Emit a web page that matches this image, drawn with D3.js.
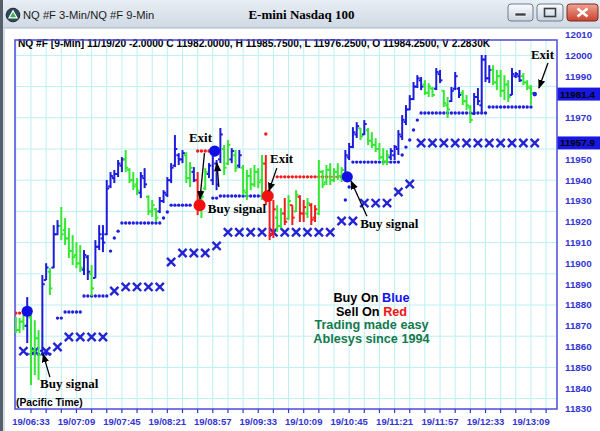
<!DOCTYPE html>
<html><head><meta charset="utf-8">
<script src="https://cdn.jsdelivr.net/npm/d3@7"></script>
<style>html,body{margin:0;padding:0;background:#fff;overflow:hidden}</style>
</head><body>
<svg id="c" width="600" height="431"></svg>
<script>
// ---------- DATA ----------
const windowTitle = "NQ #F 3-Min/NQ #F 9-Min";
const chartTitle = "E-mini Nasdaq 100";
const headerText = "NQ #F [9-Min] 11/19/20  -2.0000 C 11982.0000, H 11985.7500, L 11976.2500, O 11984.2500, V 2.2830K";
const timeLabels = ["19/06:33","19/07:09","19/07:45","19/08:21","19/08:57","19/09:33","19/10:09","19/10:45","19/11:21","19/11:57","19/12:33","19/13:09"];
const priceTicks = [12010,12000,11990,11980,11970,11960,11950,11940,11930,11920,11910,11900,11890,11880,11870,11860,11850,11840,11830];
const gridPrices = [11835,11850,11865,11880,11895,11910,11925,11940,11955,11970,11985,12000];
const lastPrices = [11981.4, 11957.9];

// 3-min bars (index 0 = 19/06:21)
const barHigh = [11874.2,11873.7,11875.2,11883.8,11876.1,11872.7,11867.9,11894.4,11900.1,11897.7,
11918.4,11920.8,11927.1,11921.8,11917,11913.6,11910.2,11908.8,11906.4,11904,
11899.2,11911.2,11918.4,11918.4,11940.1,11943.9,11944.9,11949.7,11951.1,11954.5,
11945.8,11943.9,11941,11943.9,11945.8,11932.8,11930.5,11926.6,11931.9,11935.2,
11941.5,11948.2,11961.7,11953,11954.5,11953.5,11948.7,11946.3,11943.9,11935.2,
11945.8,11948.2,11954.5,11949.7,11965.1,11956.9,11959.3,11955.4,11954.5,11954.5,
11947.3,11944.9,11945.8,11947.3,11945.8,11952.1,11952.1,11935.2,11930.5,11928,
11926.6,11931.4,11932.8,11928,11935.2,11932.8,11930.5,11931.4,11929,11928,
11949.7,11944.9,11947.3,11948.2,11945.8,11948.2,11946.3,11954.5,11957.9,11965.5,
11967.9,11965.1,11968.9,11965.1,11963.1,11960.2,11957.9,11955.4,11954.5,11955.4,
11956.9,11964.1,11971.3,11976.1,11980.9,11987.2,11990.5,11989.6,11988.1,11986.7,
11984.8,11993.9,11993,11983.3,11980,11984.8,11992,11984.8,11983.3,11980.9,
11976.1,11981.9,11984.3,12000.2,12000.2,11995.3,11995.3,11993,11993,11990.5,
11988.1,11993.9,11992,11993,11991.5,11988.1,11985.75];
const barLow = [11866.5,11866.5,11867.9,11861.7,11841.5,11846.3,11843.9,11856.9,11892,11884.8,
11897.7,11913.6,11911.2,11908.8,11902.6,11899.2,11897.7,11895.8,11894.4,11892,
11884.3,11893,11906.4,11905.4,11913.6,11936.2,11938.6,11941.5,11943.9,11943.9,
11938.6,11935.3,11932.8,11931.4,11936.2,11923.2,11922.3,11919.9,11924.2,11929,
11931.9,11938.6,11946.3,11947.3,11948.2,11938.6,11936.7,11939.1,11923.2,11921.8,
11935.2,11941,11937.7,11935.2,11948.2,11942.5,11947.3,11948.2,11943.9,11945.8,
11932.8,11930.5,11935.2,11936.7,11936.2,11930.5,11928,11911.2,11912.2,11915.1,
11917,11918.4,11920.8,11918.4,11924.7,11919.9,11919.9,11921.8,11918.4,11919.9,
11923.2,11936.2,11937.7,11937.7,11939.1,11940.1,11939.1,11941,11949.7,11955.4,
11960.3,11959.3,11961.7,11956.9,11955.4,11953.5,11949.7,11947.3,11947.3,11949.7,
11949.7,11952.1,11959.3,11966.5,11973.7,11978.5,11984.3,11983.3,11980.9,11980,
11980,11983.3,11986.7,11975.2,11969.9,11977.6,11983.3,11979.5,11976.1,11973.7,
11967.5,11971.3,11976.1,11972.8,11987.2,11986.7,11985.7,11983.3,11980,11978.5,
11977.6,11980.9,11989.1,11987.2,11985.7,11983.3,11976.25];
const barOpen = [11870,11868,11872,11870,11874,11858,11864,11858,11892,11896,
11898,11914,11918,11916,11912,11906,11904,11900,11897,11903,
11895,11893,11908,11912,11914,11937,11941,11943,11947,11950,
11945,11940,11938,11934,11941,11932,11925,11926,11925,11930,
11933,11940,11947,11952,11950,11952,11941,11944,11940,11928,
11936,11943,11940,11948,11950,11955,11948,11950,11952,11947,
11946,11934,11942,11938,11944,11940,11948,11932,11914,11922,
11918,11924,11921.5,11928,11925,11932,11924,11924,11928,11922,
11924,11944,11939,11945,11940,11944,11942,11943,11951,11956,
11962,11965,11962,11964,11959,11957,11955,11951,11949,11951,
11952,11955,11961,11968,11974,11979,11985,11988,11986,11982,
11984,11984,11991,11983,11976,11978,11984,11984,11982,11978,
11975,11972,11980,11976,11998,11989,11993,11987,11990,11983,
11986,11981,11990,11990,11990,11987,11984.25];
const barClose = [11868,11872,11870,11878,11858,11864,11856,11890,11898,11888,
11914,11918,11914,11912,11906,11903,11900,11898,11904,11896,
11888,11908,11914,11910,11936,11942,11943,11948,11950,11946,
11940,11937,11935,11942,11938,11925,11928,11922,11930,11934,
11940,11946,11955,11950,11953,11941,11946,11940,11928,11932,
11944,11947,11952,11938,11962,11946,11957,11954,11946,11952,
11935,11942,11938,11944,11939,11948,11932,11914,11926,11918,
11924,11920,11930,11922,11933,11924,11927,11929,11921,11926,
11944,11938,11945,11940,11944,11942,11945,11952,11956,11963,
11966,11961,11967,11959,11957,11955,11951,11949,11952,11954,
11956,11962,11969,11974,11979,11985,11989,11985,11982,11985,
11981,11992,11988,11977,11974,11983,11990,11981,11978,11976,
11969,11980,11978,11998,11989,11993,11987,11990,11983,11986,
11980,11991,11991,11988,11987,11985,11982];
// B = blue (up trend), G = green, R = red
const barColor = ("GGGBGGGBBG"+"BBGGGGGGBB"+"GBBBBBBBBG"+"GGGBBGGGBB"+"BBBBBGGBRG"+
  "GBBBBGGBGB"+"GGGGGGRRRG"+"GRGRGRRGRR"+"GGGGGGGBBB"+"BGBGGGGGGB"+
  "BBBBBBBBGG"+"GBBGGBBBGG"+"GBBBBBGGGG"+"GBBBGGG").split("");

const N = null;
// blue trailing-stop dots (per 3-min bar)
const blueStop = [N,N,N,11856.4,11856.4,11856.4,11856.4,11856.4,11856.4,11856.4,
N,11873.7,11873.7,11876.6,11876.6,11876.6,11876.6,11876.6,11884.3,11884.3,
11884.3,11884.3,11884.3,11884.3,11884.3,11905.9,11912.2,11915.5,11919.4,11919.4,
11919.4,11919.4,11919.4,11919.4,11919.4,11919.4,11919.4,11919.4,11919.4,11921.8,
11924.7,11928,11928,11928,11928,11928,11928,N,N,N,
N,N,11931.4,11931.4,11932.4,11932.4,11932.4,11932.4,11932.4,11932.4,
11932.4,11932.4,11932.4,11932.4,11932.4,11932.4,11932.4,N,N,N,
N,N,N,N,N,N,N,N,N,N,
N,N,N,N,N,N,N,11930.5,11936.7,11948.7,
11948.7,11948.7,11948.7,11948.7,11948.7,11948.7,11948.7,11948.7,11948.7,11948.7,
11948.7,11948.7,11952.1,11955.9,11959.3,11964.1,11968.9,11972.3,11972.3,11972.3,
11972.3,11972.3,11972.3,11972.3,11972.3,11972.3,11972.3,11972.3,11972.3,11972.3,
11972.3,11972.3,11972.3,11972.3,11972.3,11975.2,11975.2,11975.2,11975.2,11975.2,
11975.2,11975.2,11975.2,11975.2,11975.2,11975.2,11975.2];
// red stop dots (per 3-min bar)
const redStop = [11876.1,11876.1,11876.1,N,N,N,N,N,N,N,
N,N,N,N,N,N,N,N,N,N,
N,N,N,N,N,N,N,N,N,N,
N,N,N,N,N,N,N,N,N,N,
N,N,N,N,N,N,N,N,11954,11954,
11954,11954,N,N,N,N,N,N,N,N,
N,N,N,N,N,N,11962.2,N,N,11941.6,
11941.6,11941.6,11941.6,11941.6,11941.6,11941.6,11941.6,11941.6,11941.6,11941.6,
11941.6,11941.6,11941.6,11941.6,11941.6,11941.6,11941.6,N,N,N,
N,N,N,N,N,N,N,N,N,N,
N,N,N,N,N,N,N,N,N,N,
N,N,N,N,N,N,N,N,N,N,
N,N,N,N,N,N,N,N,N,N,
N,N,N,N,N,N,N];
// 9-min stop (X markers), one per 9-min bar
const nineMinStop = [11857.8,11857.8,11857.8,11859.8,11864.6,11864.6,11864.6,11864.6,11886.7,11888.7,
11888.7,11888.7,11888.7,11900.7,11905,11905,11905,11908.4,11915,11915,
11915,11915,11915,11915,11915,11915,11915,11915,11920.4,11920.4,
11929,11929,11929,11934.3,11938.2,11957.9,11957.9,11957.9,11957.9,11957.9,
11957.9,11957.9,11957.9,11957.9,11957.9,11957.9];
// signals (bar index, price)
const signalIdx = [3, 48.5, 52.5, 66.5, 87.5];
const signalPrice = [11877, 11928, 11954, 11932.4, 11941.6];
const signalColor = ["B","R","B","R","B"];
const exitIdx = 137, exitPrice = 11981.4;
// annotations: text at (idx, price); arrow from (idx,price) to (idx,price)
const noteText = ["Exit","Buy signal","Exit","Buy signal","Buy signal","Exit"];
const noteIdx = [45.7, 50.7, 67.1, 90.9, 6.4, 136.0];
const notePrice = [11958.3, 11924.2, 11948.2, 11917.0, 11840.1, 11998.2];
const arrowFrom = [[49.8,11953.0],[53.6,11936.7],[68.9,11945.8],[92.7,11922.7],[9.0,11845.3],[140.5,11996.3]];
const arrowTo   = [[48.6,11930.9],[53.1,11948.2],[66.8,11934.8],[88.5,11939.6],[7.2,11856.4],[138.1,11984.3]];

// ---------- DRAW ----------
const svg = d3.select("#c");
const SANS = "'Liberation Sans', Arial, sans-serif";
const SERIF = "'Liberation Serif', 'Times New Roman', serif";
const COL = {B:"#1c1cdc", G:"#33e833", R:"#f21c1c"};
const AXIS = "#3434d4";
const plot = {l:15, r:557, t:40, b:409};
const x = d3.scaleLinear().domain([-0.224, 142.88]).range([plot.l, plot.r]);
const y = d3.scaleLinear().domain([11830, 12007.4]).range([plot.b, plot.t]);

const defs = svg.append("defs");
const tb = defs.append("linearGradient").attr("id","tb").attr("x1",0).attr("y1",0).attr("x2",0).attr("y2",1);
tb.append("stop").attr("offset","0%").attr("stop-color","#e8eef5");
tb.append("stop").attr("offset","100%").attr("stop-color","#cfd9e4");
const bg = defs.append("linearGradient").attr("id","bg").attr("x1",0).attr("y1",0).attr("x2",0).attr("y2",1);
bg.append("stop").attr("offset","0%").attr("stop-color","#fbfcfe");
bg.append("stop").attr("offset","100%").attr("stop-color","#c9d3de");
const cg = defs.append("linearGradient").attr("id","cg").attr("x1",0).attr("y1",0).attr("x2",0).attr("y2",1);
cg.append("stop").attr("offset","0%").attr("stop-color","#f0a494");
cg.append("stop").attr("offset","100%").attr("stop-color","#c9412d");
defs.append("clipPath").attr("id","pc").append("rect")
  .attr("x",plot.l).attr("y",plot.t).attr("width",plot.r-plot.l).attr("height",plot.b-plot.t);
defs.append("marker").attr("id","ah").attr("viewBox","0 0 10 10").attr("refX",9).attr("refY",5)
  .attr("markerWidth",7).attr("markerHeight",7).attr("orient","auto-start-reverse")
  .append("path").attr("d","M0,1 L10,5 L0,9 z").attr("fill","#000");

svg.append("rect").attr("width",600).attr("height",431).attr("fill","#fff");
// window chrome
svg.append("rect").attr("x",0).attr("y",0).attr("width",600).attr("height",28).attr("fill","url(#tb)");
svg.append("line").attr("x1",0).attr("x2",600).attr("y1",28).attr("y2",28).attr("stroke","#aab6c3");
svg.append("rect").attr("x",0).attr("y",0).attr("width",3).attr("height",431).attr("fill","#55606c");
svg.append("rect").attr("x",3).attr("y",28).attr("width",2).attr("height",403).attr("fill","#d6dde5");
// icon
svg.append("circle").attr("cx",13).attr("cy",15).attr("r",6.8).attr("fill","#2f4a5a").attr("stroke","#1b2a33");
svg.append("path").attr("d","M13,9.5 L18,18.5 L8,18.5 Z").attr("fill","#fff");
svg.append("path").attr("d","M13,12 L16,17.3 L10,17.3 Z").attr("fill","#2fb54f");
svg.append("text").attr("x",23).attr("y",19).attr("font-family",SANS).attr("font-size",11.2)
  .attr("fill","#1c1c1c").text(windowTitle);
svg.append("text").attr("x",301.5).attr("y",19).attr("text-anchor","middle").attr("font-family",SERIF)
  .attr("font-weight","bold").attr("font-size",13).attr("fill","#000").text(chartTitle);
// buttons
svg.append("rect").attr("x",508).attr("y",4).attr("width",25).attr("height",17).attr("rx",3)
  .attr("fill","url(#bg)").attr("stroke","#6f7d8c");
svg.append("rect").attr("x",515).attr("y",13).attr("width",11).attr("height",3).attr("fill","#3a3f46").attr("stroke","#fff").attr("stroke-width",0.6);
svg.append("rect").attr("x",537).attr("y",4).attr("width",26).attr("height",17).attr("rx",3)
  .attr("fill","url(#bg)").attr("stroke","#6f7d8c");
svg.append("rect").attr("x",544.5).attr("y",8.5).attr("width",11).attr("height",8).attr("fill","none").attr("stroke","#3a3f46").attr("stroke-width",1.6);
svg.append("rect").attr("x",567).attr("y",4).attr("width",31).attr("height",17).attr("rx",3)
  .attr("fill","url(#cg)").attr("stroke","#7a2a20");
svg.append("path").attr("d","M577.5,8.5 L587.5,16.5 M587.5,8.5 L577.5,16.5").attr("stroke","#fff").attr("stroke-width",2.6);

// grid
const tickIdx = d3.range(0, 141, 4);
svg.append("g").selectAll("line").data(tickIdx).join("line")
  .attr("x1",d=>x(d)).attr("x2",d=>x(d)).attr("y1",plot.t).attr("y2",plot.b)
  .attr("stroke","#bdeff2").attr("stroke-width",1);
svg.append("g").selectAll("line").data(gridPrices).join("line")
  .attr("x1",plot.l).attr("x2",plot.r).attr("y1",d=>y(d)).attr("y2",d=>y(d))
  .attr("stroke","#bdeff2").attr("stroke-width",1);

// header
svg.append("text").attr("x",18).attr("y",47).attr("font-family",SANS).attr("font-weight","bold")
  .attr("font-size",10.2).attr("fill","#000").text(headerText);

// plot frame
svg.append("rect").attr("x",plot.l).attr("y",plot.t).attr("width",plot.r-plot.l).attr("height",plot.b-plot.t)
  .attr("fill","none").attr("stroke","#4b4bdc").attr("stroke-width",1.5);

// bottom axis
svg.append("g").selectAll("line").data(tickIdx.filter(d=>d>0)).join("line")
  .attr("x1",d=>x(d)).attr("x2",d=>x(d)).attr("y1",plot.b).attr("y2",plot.b+4)
  .attr("stroke",AXIS).attr("stroke-width",1.2);
svg.append("g").selectAll("text").data(timeLabels).join("text")
  .attr("x",(d,i)=>x(4+12*i)).attr("y",425).attr("text-anchor","middle")
  .attr("font-family",SANS).attr("font-weight","bold").attr("font-size",9.5).attr("fill",AXIS).text(d=>d);

// right axis labels (labels hidden under the last-price boxes are not drawn)
const visibleTicks = priceTicks.filter(p=>lastPrices.every(lp=>Math.abs(y(p)-y(lp))>9));
svg.append("g").selectAll("text").data(visibleTicks).join("text")
  .attr("x",565).attr("y",d=>y(d)).attr("dy","0.35em")
  .attr("font-family",SANS).attr("font-weight","bold").attr("font-size",9.8).attr("fill",AXIS).text(d=>d);
lastPrices.forEach(p=>{
  svg.append("rect").attr("x",557.5).attr("y",y(p)-6.5).attr("width",43).attr("height",13).attr("fill","#1818e0");
  svg.append("text").attr("x",560).attr("y",y(p)).attr("dy","0.35em").attr("font-family",SANS)
    .attr("font-weight","bold").attr("font-size",9.8).attr("fill","#000").text(p.toFixed(1));
});

const pg = svg.append("g").attr("clip-path","url(#pc)");
// 9-min X markers
const xs = 4.1;
pg.append("g").selectAll("path").data(nineMinStop).join("path")
  .attr("d",(d,i)=>{const cx=x(2+3*i), cy=y(d);
    return `M${cx-xs},${cy-xs}L${cx+xs},${cy+xs}M${cx+xs},${cy-xs}L${cx-xs},${cy+xs}`;})
  .attr("stroke","#2424d4").attr("stroke-width",2.4).attr("fill","none");
// stop dots
pg.append("g").selectAll("circle").data(blueStop.map((v,i)=>[i,v]).filter(d=>d[1]!=null)).join("circle")
  .attr("cx",d=>x(d[0])).attr("cy",d=>y(d[1])).attr("r",1.7).attr("fill","#1f1fe0");
pg.append("g").selectAll("circle").data(redStop.map((v,i)=>[i,v]).filter(d=>d[1]!=null)).join("circle")
  .attr("cx",d=>x(d[0])).attr("cy",d=>y(d[1])).attr("r",1.7).attr("fill","#f21c1c");

// OHLC bars
const bars = barHigh.map((h,i)=>({i,h,l:barLow[i],o:barOpen[i],c:barClose[i],col:COL[barColor[i]]}));
const bg2 = pg.append("g").selectAll("g").data(bars).join("g").attr("stroke",d=>d.col).attr("stroke-width",2);
bg2.append("line").attr("x1",d=>x(d.i)).attr("x2",d=>x(d.i)).attr("y1",d=>y(d.h)).attr("y2",d=>y(d.l));
bg2.append("line").attr("x1",d=>x(d.i)-2.4).attr("x2",d=>x(d.i)).attr("y1",d=>y(d.o)).attr("y2",d=>y(d.o));
bg2.append("line").attr("x1",d=>x(d.i)).attr("x2",d=>x(d.i)+2.4).attr("y1",d=>y(d.c)).attr("y2",d=>y(d.c));

// signals
pg.append("g").selectAll("circle").data(signalIdx).join("circle")
  .attr("cx",d=>x(d)).attr("cy",(d,i)=>y(signalPrice[i])).attr("r",(d,i)=>signalColor[i]==="R"?6:5.6)
  .attr("fill",(d,i)=>signalColor[i]==="R"?"#f21010":"#1010e6");
pg.append("circle").attr("cx",x(exitIdx)).attr("cy",y(exitPrice)).attr("r",2.3).attr("fill","#1f1fe0");

// annotations
svg.append("g").selectAll("line").data(arrowFrom).join("line")
  .attr("x1",d=>x(d[0])).attr("y1",d=>y(d[1]))
  .attr("x2",(d,i)=>x(arrowTo[i][0])).attr("y2",(d,i)=>y(arrowTo[i][1]))
  .attr("stroke","#000").attr("stroke-width",1.3).attr("marker-end","url(#ah)");
svg.append("g").selectAll("text").data(noteText).join("text")
  .attr("x",(d,i)=>x(noteIdx[i])).attr("y",(d,i)=>y(notePrice[i]))
  .attr("font-family",SERIF).attr("font-weight","bold").attr("font-size",13).attr("fill","#000").text(d=>d);

// legend
const lg = svg.append("g").attr("font-family",SANS).attr("font-weight","bold").attr("font-size",12.7).attr("text-anchor","middle");
const t1 = lg.append("text").attr("x",371.5).attr("y",302);
t1.append("tspan").attr("fill","#000").text("Buy On ");
t1.append("tspan").attr("fill","#1212f0").text("Blue");
const t2 = lg.append("text").attr("x",371.5).attr("y",315.5);
t2.append("tspan").attr("fill","#000").text("Sell On ");
t2.append("tspan").attr("fill","#f01414").text("Red");
lg.append("text").attr("x",371.5).attr("y",329).attr("fill","#137a4e").text("Trading made easy");
lg.append("text").attr("x",371.5).attr("y",342.5).attr("fill","#137a4e").text("Ablesys since 1994");

svg.append("text").attr("x",16).attr("y",406).attr("font-family",SANS).attr("font-weight","bold")
  .attr("font-size",10.3).attr("fill","#000").text("(Pacific Time)");
</script>
</body></html>
